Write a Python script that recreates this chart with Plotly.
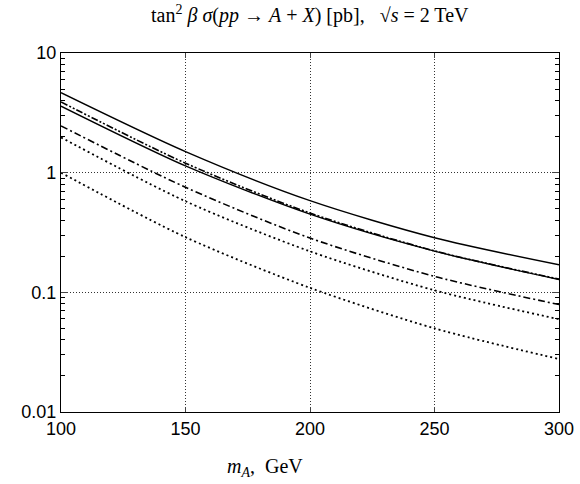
import plotly.graph_objects as go

m_A = [100, 150, 200, 250, 300]
solid_upper = [4.66, 1.50, 0.584, 0.286, 0.170]
dashdotdot = [3.90, 1.20, 0.460, 0.222, 0.129]
solid_lower = [3.60, 1.14, 0.450, 0.221, 0.128]
dashdot = [2.46, 0.755, 0.284, 0.136, 0.079]
dotted_upper = [1.97, 0.577, 0.220, 0.104, 0.0596]
dotted_lower = [1.00, 0.289, 0.109, 0.050, 0.0277]

y_tickvals = [0.01, 0.1, 1, 10]
y_ticktext = ["0.01", "0.1", "1", "10"]
x_tickvals = [100, 150, 200, 250, 300]

series = [
    (solid_upper, "solid", 1.4),
    (dashdotdot, "7px,2px,2px,2px,2px,2px", 1.6),
    (solid_lower, "solid", 1.4),
    (dashdot, "7px,3px,2px,3px", 1.6),
    (dotted_upper, "2px,3px", 1.8),
    (dotted_lower, "2px,3px", 1.8),
]

fig = go.Figure()
for ys, dash, w in series:
    fig.add_trace(go.Scatter(x=m_A, y=ys, mode="lines",
                             line=dict(color="black", width=w, dash=dash, shape="spline", smoothing=0.8),
                             showlegend=False, hoverinfo="skip"))

serif = "Liberation Serif, Times New Roman, serif"
fig.update_layout(
    width=580, height=484,
    margin=dict(l=61, r=21, t=53, b=72, autoexpand=False),
    paper_bgcolor="white", plot_bgcolor="white",
    font=dict(family="Liberation Sans, Arial, sans-serif", size=18, color="black"),
    xaxis=dict(range=[100, 300], tickvals=x_tickvals, ticks="inside", ticklen=5,
               showline=True, linecolor="black", linewidth=1.2, mirror="ticks",
               showgrid=True, gridcolor="#333", griddash="1px,2px", gridwidth=1,
               zeroline=False, tickfont=dict(size=18), automargin=False),
    yaxis=dict(type="log", range=[-2, 1], tickvals=y_tickvals, ticktext=y_ticktext,
               ticks="inside", ticklen=7, showline=True, linecolor="black", linewidth=1.2,
               mirror="ticks", showgrid=True, gridcolor="#333", griddash="1px,2px", gridwidth=1,
               zeroline=False, tickfont=dict(size=18), automargin=False,
               minor=dict(ticks="inside", ticklen=4, tickcolor="black", showgrid=False,
                          dtick="D1")),
    annotations=[
        dict(text="tan<sup>2</sup> <i>β σ</i>(<i>pp</i> → <i>A</i> + <i>X</i>) [pb],   √<i>s</i> = 2 TeV",
             xref="paper", yref="paper", x=0.5, y=1, yshift=39, showarrow=False,
             xanchor="center", yanchor="middle",
             font=dict(family=serif, size=20)),
        dict(text="<i>m<sub>A</sub></i>,  GeV",
             xref="paper", yref="paper", x=0.41, y=0, yshift=-55, showarrow=False,
             xanchor="center", yanchor="middle",
             font=dict(family=serif, size=20)),
    ],
)

fig.write_html("out.html", post_script="document.body.style.margin='0';",
               config={"displayModeBar": False})
